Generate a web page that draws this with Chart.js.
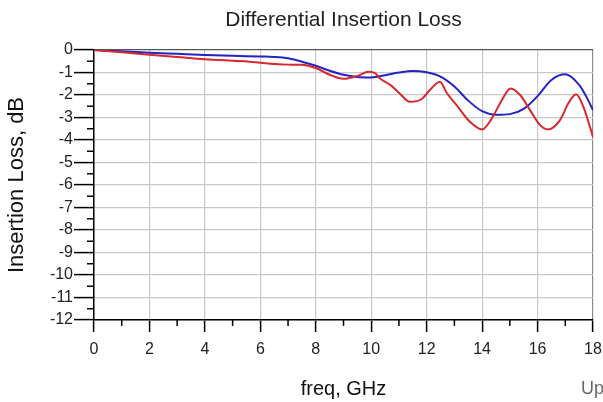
<!DOCTYPE html>
<html><head><meta charset="utf-8">
<script src="https://cdn.jsdelivr.net/npm/chart.js@4.4.0/dist/chart.umd.min.js"></script>
<style>html,body{margin:0;padding:0;background:#fff;}#wrap{width:603px;height:402px;}</style>
</head><body><div id="wrap"><canvas id="c" width="603" height="402"></canvas></div>
<script>
const titleText = 'Differential Insertion Loss';
const xTitle = 'freq, GHz';
const yTitle = 'Insertion Loss, dB';
const cornerText = 'Up';

const blueFreq = [0,1,2,3,4,5,6,6.5,7,7.5,8,8.5,9,9.5,10,10.5,11,11.5,12,12.5,13,13.5,14,14.5,15,15.5,16,16.5,17,17.5,17.75,18];
const blueLoss = [0,-0.06,-0.12,-0.17,-0.22,-0.26,-0.29,-0.31,-0.37,-0.52,-0.7,-0.92,-1.1,-1.2,-1.22,-1.12,-1.0,-0.93,-0.99,-1.18,-1.62,-2.25,-2.72,-2.88,-2.85,-2.62,-2.05,-1.33,-1.08,-1.55,-2.05,-2.67];

const redFreq = [0,1,2,3,4,5,5.6,6,6.5,7,7.5,8,8.5,9,9.5,9.9,10.15,10.3,10.7,11,11.4,11.8,12.1,12.48,12.72,13.08,13.56,14,14.35,14.71,15.03,15.37,15.73,16.09,16.39,16.81,17.11,17.39,17.65,18];
const redLoss = [0,-0.1,-0.21,-0.31,-0.41,-0.48,-0.52,-0.57,-0.62,-0.65,-0.66,-0.8,-1.1,-1.28,-1.15,-0.97,-1.04,-1.25,-1.56,-1.9,-2.3,-2.2,-1.8,-1.41,-1.9,-2.45,-3.19,-3.53,-3.04,-2.23,-1.71,-2.0,-2.67,-3.34,-3.53,-3.12,-2.37,-1.97,-2.52,-3.86];

const xMin = 0, xMax = 18, yMin = -12, yMax = 0;

const FONT = "'Liberation Sans', Arial, sans-serif";
Chart.defaults.font.family = FONT;
Chart.defaults.color = '#222';

const minorTicks = {
  id: 'minorTicks',
  afterDraw(chart) {
    const {ctx, chartArea: a, scales: {x, y}} = chart;
    ctx.save();
    ctx.strokeStyle = '#000';
    ctx.lineWidth = 1.5;
    ctx.beginPath();
    for (let v = yMin + 0.5; v < yMax; v += 1) {
      const py = y.getPixelForValue(v);
      ctx.moveTo(a.left - 7, py); ctx.lineTo(a.left, py);
    }
    for (let v = xMin + 1; v < xMax; v += 2) {
      const px = x.getPixelForValue(v);
      ctx.moveTo(px, a.bottom); ctx.lineTo(px, a.bottom + 6);
    }
    ctx.stroke();
    ctx.fillStyle = '#666';
    ctx.font = "18px " + FONT;
    ctx.textBaseline = 'alphabetic';
    ctx.textAlign = 'left';
    ctx.fillText(cornerText, 581, 394);
    ctx.restore();
  }
};

const toPts = (fs, vs) => fs.map((f, i) => ({x: f, y: vs[i]}));

new Chart(document.getElementById('c'), {
  type: 'line',
  data: {
    datasets: [
      {label: 'red', data: toPts(redFreq, redLoss), borderColor: 'rgb(215,40,45)', borderWidth: 2,
       pointRadius: 0, cubicInterpolationMode: 'monotone', fill: false},
      {label: 'blue', data: toPts(blueFreq, blueLoss), borderColor: 'rgb(35,35,195)', borderWidth: 2,
       pointRadius: 0, cubicInterpolationMode: 'monotone', fill: false}
    ]
  },
  options: {
    responsive: false,
    animation: false,
    events: [],
    layout: {padding: {left: 0, right: 10, top: 0, bottom: 0}},
    plugins: {
      legend: {display: false},
      tooltip: {enabled: false},
      title: {display: true, text: titleText, fullSize: false, color: '#222',
              font: {size: 21, weight: 'normal'}, padding: {top: 7.5, bottom: 17.3}}
    },
    scales: {
      x: {
        type: 'linear', min: xMin, max: xMax,
        ticks: {stepSize: 1, autoSkip: false, maxRotation: 0, maxTicksLimit: 100,
                callback: v => (v % 2 === 0 ? String(v) : ''), font: {size: 16}, color: '#222', padding: 8},
        grid: {
          color: c => { const v = c.tick ? c.tick.value : 0; if (v % 2 !== 0) return 'rgba(0,0,0,0)'; if (v === xMax) return '#8a8a8a'; return '#c8c8c8'; },
          tickColor: c => { const v = c.tick ? c.tick.value : 0; return v % 2 !== 0 ? 'rgba(0,0,0,0)' : '#000'; },
          tickLength: 12, lineWidth: 1.2, tickWidth: 1.5
        },
        border: {color: '#000', width: 1.5},
        title: {display: true, text: xTitle, font: {size: 20}, color: '#111', padding: {top: 0, bottom: 1}},
        afterFit: s => { s.height = 82; s.paddingRight = 0; s.paddingLeft = 0; }
      },
      y: {
        type: 'linear', min: yMin, max: yMax,
        ticks: {stepSize: 0.5, autoSkip: false, maxTicksLimit: 100,
                callback: v => (Number.isInteger(v) ? String(v) : ''), font: {size: 16}, color: '#222', padding: 1},
        grid: {
          color: c => { const v = c.tick ? c.tick.value : 0; if (!Number.isInteger(v)) return 'rgba(0,0,0,0)'; if (v === yMax) return '#555'; return '#c8c8c8'; },
          tickColor: c => { const v = c.tick ? c.tick.value : 0; return Number.isInteger(v) ? '#000' : 'rgba(0,0,0,0)'; },
          tickLength: 20, lineWidth: 1.2, tickWidth: 1.5
        },
        border: {color: '#000', width: 1.5},
        title: {display: true, text: yTitle, font: {size: 22}, color: '#111', padding: {top: 4, bottom: 0}},
        afterFit: s => { s.width = 94; }
      }
    }
  },
  plugins: [minorTicks]
});
</script>
</body></html>
